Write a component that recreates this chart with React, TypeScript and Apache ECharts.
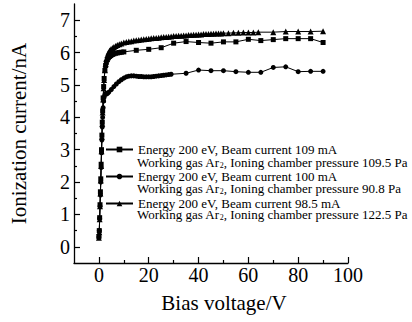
import React, { useEffect, useRef } from "react";
import * as echarts from "echarts";

const FONT = "'Liberation Serif', 'Times New Roman', serif";

// Tick values
const xLabelValues = [0, 20, 40, 60, 80, 100];
const xMinorValues = [10, 30, 50, 70, 90];
const yLabelValues = [0, 1, 2, 3, 4, 5, 6, 7];
const yMinorValues = [0.5, 1.5, 2.5, 3.5, 4.5, 5.5, 6.5];

// Series names (legend first lines) and second lines
const seriesNames = [
  "Energy 200 eV, Beam current 109 mA",
  "Energy 200 eV, Beam current 100 mA",
  "Energy 200 eV, Beam current 98.5 mA",
];
const pressures = ["109.5 Pa", "90.8 Pa", "122.5 Pa"];

// Square series (109 mA)
const sqX = [0, 0.15, 0.3, 0.45, 0.6, 0.75, 0.9, 1.05, 1.2, 1.35, 1.5, 1.7, 1.9, 2.1, 2.4, 2.7, 3, 3.4, 3.8, 4.3, 4.8, 5.4, 6, 6.7, 7.4, 8.2, 9, 10,
  15, 20, 25, 30, 35, 40, 45, 50, 55, 60, 65, 70, 75, 80, 85, 90];
const sqY = [0.32, 0.5, 0.9, 1.3, 1.7, 2.1, 2.55, 3.0, 3.45, 3.85, 4.2, 4.6, 4.95, 5.2, 5.45, 5.6, 5.7, 5.78, 5.84, 5.88, 5.91, 5.94, 5.96, 5.98, 5.99, 6.0, 6.01, 6.02,
  6.07, 6.1, 6.15, 6.29, 6.34, 6.31, 6.29, 6.33, 6.33, 6.41, 6.37, 6.4, 6.43, 6.43, 6.43, 6.31];

// Circle series (100 mA)
const ciX = [0, 0.15, 0.3, 0.45, 0.6, 0.75, 0.9, 1.05, 1.2, 1.35, 1.5, 1.7, 1.9, 2.1, 2.4, 2.7, 3, 3.5, 4, 5, 6, 7, 8, 9, 10,
  11, 12, 13, 14, 15, 16, 17, 18, 19, 20, 21, 22, 23, 24, 25, 26, 27, 28, 29,
  35, 40, 45, 50, 55, 60, 65, 70, 75, 80, 85, 90];
const ciY = [0.3, 0.5, 0.88, 1.25, 1.6, 2.0, 2.45, 2.9, 3.3, 3.7, 4.0, 4.3, 4.5, 4.62, 4.7, 4.74, 4.72, 4.74, 4.78, 4.86, 4.95, 5.03, 5.1, 5.16, 5.21,
  5.25, 5.27, 5.28, 5.28, 5.27, 5.26, 5.26, 5.25, 5.25, 5.25, 5.25, 5.26, 5.27, 5.28, 5.29, 5.3, 5.31, 5.32, 5.33,
  5.36, 5.46, 5.44, 5.44, 5.41, 5.39, 5.39, 5.54, 5.56, 5.41, 5.42, 5.42];

// Triangle series (98.5 mA)
const trX = [0, 0.15, 0.3, 0.45, 0.6, 0.75, 0.9, 1.05, 1.2, 1.35, 1.5, 1.7, 1.9, 2.1, 2.4, 2.7, 3, 3.4, 3.8, 4.3, 4.8, 5.4, 6, 6.7, 7.4, 8.2, 9, 10,
  11, 12, 13, 14, 15, 16, 17, 18, 19, 20, 21, 22, 23, 24, 25, 26, 27, 28, 29, 30,
  31, 32, 33, 34, 35, 36, 37, 38, 39, 40, 41, 42, 43, 44, 45, 46, 47, 48, 49, 50,
  52, 54, 56, 58, 60, 62, 64, 70, 75, 80, 85, 90];
const trY = [0.28, 0.45, 0.85, 1.25, 1.65, 2.05, 2.5, 2.95, 3.4, 3.8, 4.15, 4.55, 4.9, 5.15, 5.45, 5.65, 5.8, 5.92, 6.0, 6.06, 6.1, 6.14, 6.17, 6.2, 6.23, 6.26, 6.28, 6.31,
  6.33, 6.34, 6.35, 6.37, 6.38, 6.39, 6.4, 6.41, 6.42, 6.43, 6.44, 6.45, 6.45, 6.46, 6.47, 6.48, 6.48, 6.49, 6.5, 6.51,
  6.51, 6.52, 6.52, 6.53, 6.53, 6.54, 6.54, 6.55, 6.55, 6.56, 6.56, 6.57, 6.57, 6.57, 6.58, 6.58, 6.59, 6.59, 6.59, 6.6,
  6.6, 6.61, 6.61, 6.62, 6.62, 6.62, 6.63, 6.63, 6.65, 6.65, 6.65, 6.66];

const zip = (xs: number[], ys: number[]) => xs.map((x, i) => [x, ys[i]]);

export default function App() {
  const ref = useRef<HTMLDivElement>(null);
  useEffect(() => {
    if (!ref.current) return;
    const chart = echarts.init(ref.current, undefined, { renderer: "svg" });
    const axisCommon = {
      type: "value" as const,
      splitLine: { show: false },
    };
    const lineStyle = { color: "#000", width: 1 };
    const option: any = {
      animation: false,
      backgroundColor: "#fff",
      textStyle: { fontFamily: FONT, color: "#000" },
      grid: { left: 67, right: 64, top: 4, bottom: 59, containLabel: false },
      xAxis: [
        {
          ...axisCommon,
          min: -10,
          max: 100,
          interval: 10,
          axisLine: { show: true, onZero: false, lineStyle: { color: "#000", width: 1.3 } },
          axisTick: { show: true, inside: true, length: 6, customValues: xLabelValues, lineStyle: { color: "#000", width: 1.2 } },
          axisLabel: { customValues: xLabelValues, color: "#000", fontFamily: FONT, fontSize: 20, margin: 2 },
          name: "Bias voltage/V",
          nameLocation: "middle",
          nameGap: 29,
          nameMoveOverlap: false,
          nameTextStyle: { fontFamily: FONT, fontSize: 21, color: "#000", padding: [0, 0, 0, 26] },
        },
        {
          ...axisCommon,
          min: -10,
          max: 100,
          interval: 10,
          position: "bottom",
          axisLine: { show: false, onZero: false },
          axisTick: { show: true, inside: true, length: 3, customValues: xMinorValues, lineStyle: { color: "#000", width: 1.2 } },
          axisLabel: { show: false },
        },
      ],
      yAxis: [
        {
          ...axisCommon,
          min: -0.5,
          max: 7.5,
          interval: 0.5,
          axisLine: { show: true, onZero: false, lineStyle: { color: "#000", width: 1.3 } },
          axisTick: { show: true, inside: true, length: 6, customValues: yLabelValues, lineStyle: { color: "#000", width: 1.2 } },
          axisLabel: { customValues: yLabelValues, color: "#000", fontFamily: FONT, fontSize: 20, margin: 4 },
          name: "Ionization current/nA",
          nameLocation: "middle",
          nameGap: 45,
          nameMoveOverlap: false,
          nameTextStyle: { fontFamily: FONT, fontSize: 21, color: "#000" },
        },
        {
          ...axisCommon,
          min: -0.5,
          max: 7.5,
          interval: 0.5,
          position: "left",
          axisLine: { show: false, onZero: false },
          axisTick: { show: true, inside: true, length: 3, customValues: yMinorValues, lineStyle: { color: "#000", width: 1.2 } },
          axisLabel: { show: false },
        },
      ],
      legend: {
        orient: "vertical",
        left: 105,
        top: 143,
        itemWidth: 27,
        itemHeight: 7,
        itemGap: 14,
        padding: 0,
        textStyle: { fontFamily: FONT, fontSize: 13, color: "#000", lineHeight: 12 },
        data: seriesNames,
      },
      series: [
        {
          name: seriesNames[0],
          type: "line",
          data: zip(sqX, sqY),
          symbol: "rect",
          symbolSize: 5,
          itemStyle: { color: "#000" },
          lineStyle,
        },
        {
          name: seriesNames[1],
          type: "line",
          data: zip(ciX, ciY),
          symbol: "circle",
          symbolSize: 5,
          itemStyle: { color: "#000" },
          lineStyle,
        },
        {
          name: seriesNames[2],
          type: "line",
          data: zip(trX, trY),
          symbol: "triangle",
          symbolSize: 6,
          itemStyle: { color: "#000" },
          lineStyle,
        },
      ],
      graphic: pressures.map((p, i) => ({
        type: "text",
        left: 137,
        top: 156 + i * 26,
        style: {
          text: "Working gas Ar{sub|2}, Ioning chamber pressure " + p,
          fontFamily: FONT,
          fontSize: 13,
          lineHeight: 13,
          fill: "#000",
          rich: {
            sub: { fontFamily: FONT, fontSize: 8, lineHeight: 8, verticalAlign: "bottom", fill: "#000" },
          },
        },
      })),
    };
    chart.setOption(option);
    return () => chart.dispose();
  }, []);
  return <div ref={ref} style={{ position: "absolute", left: 0, top: 0, width: 412, height: 322 }} />;
}
